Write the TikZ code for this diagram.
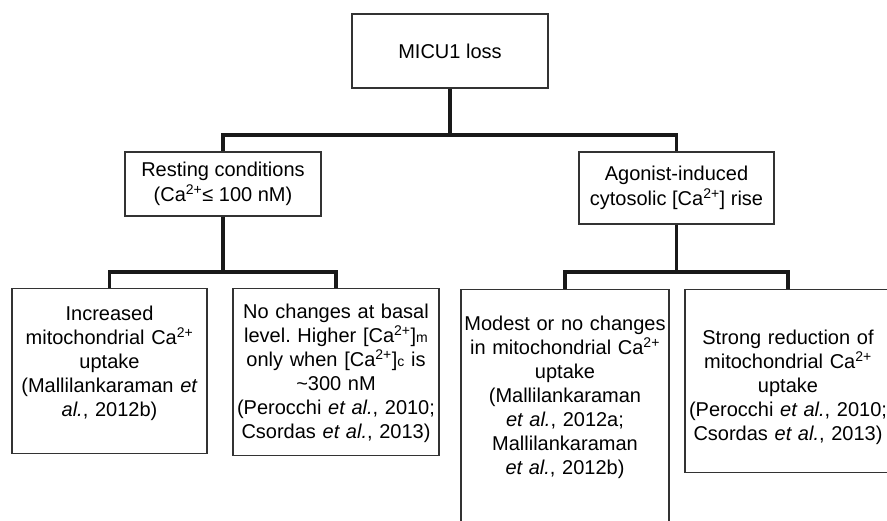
\documentclass[tikz,border=0pt]{standalone}
\usepackage{fontspec}
\setmainfont{Liberation Sans}
\newcommand{\caion}{Ca\textsuperscript{2+}}
\newcommand{\smallsub}[1]{{\fontsize{14}{14}\selectfont #1}}

\begin{document}
\frenchspacing
\begin{tikzpicture}[x=1pt,y=-1pt,
                main node/.style={draw=black!80,line width=1.2pt,inner sep=0pt,align=center,
                                  font=\fontsize{20}{25}\selectfont},
                leaf node/.style={main node,anchor=north,font=\fontsize{20}{24}\selectfont},
                link/.style={line width=3.2pt,draw=black!90}]
                \useasboundingbox (0,0) rectangle (887,521);
                \clip (0,0) rectangle (887,521);

                \node[main node,minimum width=196pt,minimum height=74pt] (loss) at (450,51) {MICU1 loss};
                \node[main node,minimum width=196pt,minimum height=64pt] (rest) at (223,184)
                        {Resting conditions\\(\caion{}≤ 100 nM)};
                \node[main node,minimum width=195pt,minimum height=72pt] (agon) at (676.5,188)
                        {Agonist-induced\\cytosolic [\caion] rise};

                \node[leaf node,text width=195pt,text height=32pt,text depth=133pt] (incr) at (109.5,288)
                        {Increased\\mitochondrial \caion\\uptake\\(Mallilankaraman \textit{et}\\\textit{al.}, 2012b)};
                \node[leaf node,text width=206pt,text height=30pt,text depth=137pt] (basal) at (336,288)
                        {No changes at basal\\level. Higher [\caion]\smallsub{m}\\only when [\caion]\smallsub{c} is\\\textasciitilde300 nM\\(Perocchi \textit{et al.}, 2010;\\Csordas \textit{et al.}, 2013)};
                \node[leaf node,text width=208pt,text height=41pt,text depth=210pt] (modest) at (565,289)
                        {Modest or no changes\\in mitochondrial \caion\\uptake\\(Mallilankaraman\\\textit{et al.}, 2012a;\\Mallilankaraman\\\textit{et al.}, 2012b)};
                \node[leaf node,text width=206pt,text height=55pt,text depth=128pt] (strong) at (788,289)
                        {Strong reduction of\\mitochondrial \caion\\uptake\\(Perocchi \textit{et al.}, 2010;\\Csordas \textit{et al.}, 2013)};

                \coordinate (j0) at (450,135);
                \coordinate (j1) at (223,272);
                \coordinate (j2) at (676.5,272);

                \draw[link] (loss.south) -- (j0) -| (rest.north);
                \draw[link] (j0) -| (agon.north);
                \draw[link] (rest.south) -- (j1) -| (incr.north);
                \draw[link] (j1) -| (basal.north);
                \draw[link] (agon.south) -- (j2) -| (modest.north);
                \draw[link] (j2) -| (strong.north);
                \end{tikzpicture}
\end{document}
